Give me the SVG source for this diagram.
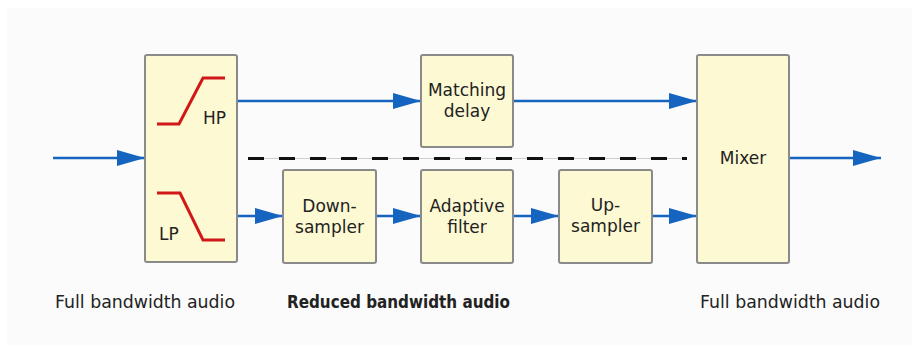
<svg xmlns="http://www.w3.org/2000/svg" width="912" height="347" viewBox="0 0 912 347">
  <style>
    .box { fill: #fdf9d2; stroke: #8a8a8a; stroke-width: 2; }
    .lbl { font-family: "DejaVu Sans", "Liberation Sans", sans-serif; font-size: 17px; fill: #222; text-anchor: middle; }
    .cap { font-family: "DejaVu Sans", "Liberation Sans", sans-serif; font-size: 17px; fill: #222; }
    .flow { stroke: #1565c0; stroke-width: 2.5; fill: none; marker-end: url(#arrow); }
    .curve { stroke: #d01818; stroke-width: 3; fill: none; }
  </style>
  <defs>
    <marker id="arrow" markerUnits="userSpaceOnUse" markerWidth="28" markerHeight="16" refX="28" refY="8" orient="auto">
      <path d="M0,0 L28,8 L0,16 Z" fill="#1565c0"/>
    </marker>
  </defs>

  <rect x="0" y="0" width="912" height="347" fill="#ffffff"/>
  <rect x="7" y="8" width="905" height="337" fill="#fbfbfb"/>

  <!-- signal path connectors -->
  <g id="connectors">
    <line class="flow" x1="53" y1="158" x2="145" y2="158"/>
    <line class="flow" x1="237" y1="101" x2="421" y2="101"/>
    <line class="flow" x1="513" y1="101" x2="697" y2="101"/>
    <line class="flow" x1="237" y1="216" x2="283" y2="216"/>
    <line class="flow" x1="376" y1="216" x2="421" y2="216"/>
    <line class="flow" x1="513" y1="216" x2="559" y2="216"/>
    <line class="flow" x1="652" y1="216" x2="697" y2="216"/>
    <line class="flow" x1="789" y1="158" x2="881" y2="158"/>
  </g>

  <!-- band separator -->
  <g id="separator">
    <line x1="248" y1="158.5" x2="687" y2="158.5" stroke="#cfcfcf" stroke-width="1"/>
    <line x1="248" y1="158.5" x2="687" y2="158.5" stroke="#111" stroke-width="3" stroke-dasharray="16 15"/>
  </g>

  <g id="splitter">
    <rect class="box" x="145" y="55" width="92" height="207" rx="2"/>
    <polyline class="curve" points="157,124 179,124 203,78 225,78"/>
    <polyline class="curve" points="157,193 180,193 203,240 225,240"/>
    <text class="cap" x="203" y="124">HP</text>
    <text class="cap" x="159" y="240">LP</text>
  </g>

  <g id="matching-delay">
    <rect class="box" x="421" y="55" width="92" height="92" rx="2"/>
    <text class="lbl" x="467" y="96">Matching</text>
    <text class="lbl" x="467" y="117">delay</text>
  </g>

  <g id="downsampler">
    <rect class="box" x="283" y="170" width="93" height="93" rx="2"/>
    <text class="lbl" x="329.5" y="212">Down-</text>
    <text class="lbl" x="329.5" y="233">sampler</text>
  </g>

  <g id="adaptive-filter">
    <rect class="box" x="421" y="170" width="92" height="93" rx="2"/>
    <text class="lbl" x="467" y="212">Adaptive</text>
    <text class="lbl" x="467" y="233">filter</text>
  </g>

  <g id="upsampler">
    <rect class="box" x="559" y="170" width="93" height="93" rx="2"/>
    <text class="lbl" x="605.5" y="211">Up-</text>
    <text class="lbl" x="605.5" y="232">sampler</text>
  </g>

  <g id="mixer">
    <rect class="box" x="697" y="55" width="92" height="208" rx="2"/>
    <text class="lbl" x="743" y="164">Mixer</text>
  </g>

  <!-- bandwidth captions -->
  <g id="captions">
    <text class="cap" x="55" y="308" textLength="180" lengthAdjust="spacingAndGlyphs">Full bandwidth audio</text>
    <text class="cap" x="287" y="308" font-weight="bold" textLength="223" lengthAdjust="spacingAndGlyphs">Reduced bandwidth audio</text>
    <text class="cap" x="700" y="308" textLength="180" lengthAdjust="spacingAndGlyphs">Full bandwidth audio</text>
  </g>
</svg>
